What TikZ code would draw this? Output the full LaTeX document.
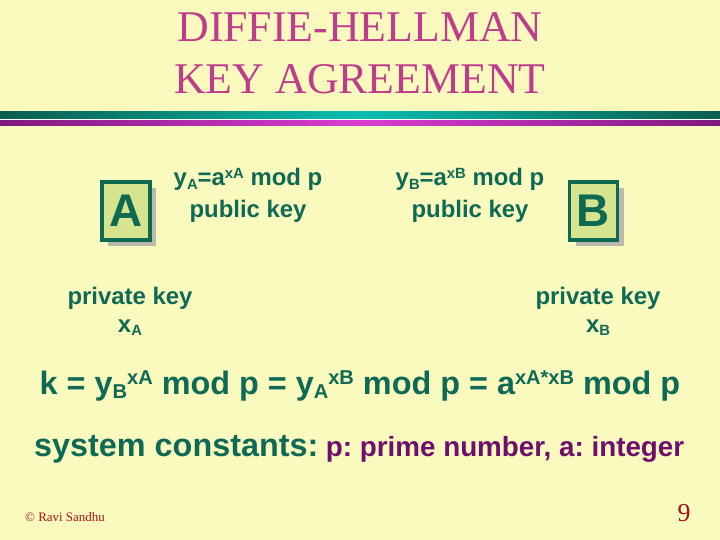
\documentclass[tikz,border=0pt]{standalone}
\usepackage{fontspec}
\setmainfont{Liberation Serif}
\setsansfont{Liberation Sans}
\usetikzlibrary{shadows, positioning}

\definecolor{paper}{HTML}{FAF9BE}
\definecolor{txtgreen}{HTML}{0F6A55}
\definecolor{titlepink}{HTML}{BE3C8C}
\definecolor{darkpurple}{HTML}{6E0F6E}
\definecolor{footred}{HTML}{A31515}
\definecolor{tealdark}{HTML}{0B5D4E}
\definecolor{tealbright}{HTML}{0BBDB0}
\definecolor{magdark}{HTML}{80187F}
\definecolor{magbright}{HTML}{DA3CD2}
\definecolor{boxfill}{HTML}{D7E48F}
\definecolor{boxline}{HTML}{0D6A50}
\definecolor{shadowgray}{HTML}{B9B9AE}

% 上下标
\newcommand{\dn}[1]{\raisebox{-0.15em}{\scalebox{0.62}{#1}}}
\newcommand{\up}[1]{\raisebox{0.3em}{\scalebox{0.62}{#1}}}

\begin{document}
\frenchspacing
\begin{tikzpicture}[x=1bp, y=-1bp, every node/.style={inner sep=0pt, anchor=base},
    title/.style={font=\fontsize{44}{44}\selectfont, text=titlepink},
    keytxt/.style={font=\sffamily\bfseries\fontsize{24}{24}\selectfont, text=txtgreen},
    bigtxt/.style={font=\sffamily\bfseries\fontsize{32.5}{32.5}\selectfont, text=txtgreen},
    constv/.style={font=\sffamily\bfseries\fontsize{27.9}{27.9}\selectfont, text=darkpurple},
    party/.style={draw=boxline, line width=3.5bp, fill=boxfill, minimum width=48bp,
        minimum height=58bp, anchor=center, text=boxline,
        font=\sffamily\bfseries\fontsize{46}{46}\selectfont,
        drop shadow={shadow xshift=6bp, shadow yshift=-6bp, fill=shadowgray, opacity=1}}]
    % 背景
    \fill[paper] (0,0) rectangle (720,540);
    \useasboundingbox (0,0) rectangle (720,540);

    % 标题
    \node[title] (ttl1) at (360,42) {DIFFIE-HELLMAN};
    \node[title] (ttl2) at (360,94) {KEY AGREEMENT};

    % 分隔条
    \fill[white] (0,118.5) rectangle (720,121.5);
    \shade[left color=tealdark, right color=tealdark, middle color=tealbright] (0,112) rectangle (720,119);
    \shade[left color=magdark, right color=magdark, middle color=magbright] (0,121) rectangle (720,126);

    % 双方
    \node[party] (boxA) at (126,211) {A};
    \node[party] (boxB) at (593.5,211) {B};

    % 公钥
    \node[keytxt] (pubA) at (248,186) {y\dn{A}=a\up{xA} mod p};
    \node[keytxt] (pubAl) at (248,218) {public key};
    \node[keytxt] (pubB) at (470,186) {y\dn{B}=a\up{xB} mod p};
    \node[keytxt] (pubBl) at (470,218) {public key};

    % 私钥
    \node[keytxt] (privA) at (130,304) {private key};
    \node[keytxt] (xa) at (130,332) {x\dn{A}};
    \node[keytxt] (privB) at (598,304) {private key};
    \node[keytxt] (xb) at (598,332) {x\dn{B}};

    % 共享密钥
    \node[bigtxt] (kval) at (360,394) {k = y\dn{B}\up{xA} mod p = y\dn{A}\up{xB} mod p = a\up{xA*xB} mod p};

    % 系统常数
    \node[bigtxt, anchor=base west] (sysc) at (34,456) {system constants:};
    \node[constv, base right=7bp of sysc] (sysv) {p: prime number, a: integer};

    % 页脚
    \node[font=\fontsize{13}{13}\selectfont, text=footred, anchor=base west] (copy) at (25,521) {© Ravi Sandhu};
    \node[font=\fontsize{26}{26}\selectfont, text=footred] (pgno) at (684,521) {9};
\end{tikzpicture}
\end{document}
